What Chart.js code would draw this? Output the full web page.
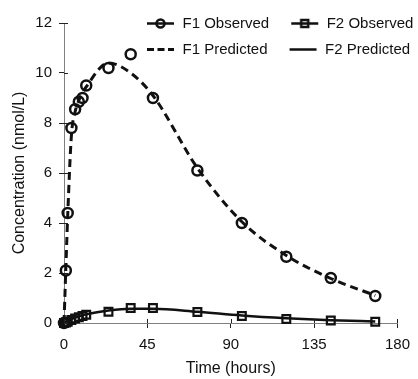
<!DOCTYPE html>
<html>
<head>
<meta charset="utf-8">
<script src="https://cdn.jsdelivr.net/npm/chart.js@4.4.1/dist/chart.umd.min.js"></script>
<style>
  html, body { margin: 0; padding: 0; background: #fff; }
  #wrap { width: 418px; height: 379px; }
</style>
</head>
<body>
<div id="wrap"><canvas id="pkChart" width="418" height="379"></canvas></div>
<script>
// Sampling times (hours) and concentrations (nmol/L)
const sampleTimes = [0, 1, 2, 4, 6, 8, 10, 12, 24, 36, 48, 72, 96, 120, 144, 168];
const f1Observed  = [0, 2.1, 4.4, 7.8, 8.55, 8.85, 9.0, 9.5, 10.2, 10.75, 9.0, 6.1, 4.0, 2.65, 1.8, 1.08];
const f1Predicted = [0, 2.2, 4.3, 7.5, 8.45, 8.9, 9.2, 9.45, 10.4, 10.0, 9.1, 6.2, 4.05, 2.7, 1.78, 1.1];
const f2Observed  = [0, 0.02, 0.05, 0.12, 0.18, 0.23, 0.28, 0.33, 0.45, 0.6, 0.6, 0.44, 0.28, 0.16, 0.1, 0.05];
const f2Predicted = [0, 0.05, 0.09, 0.16, 0.22, 0.27, 0.31, 0.35, 0.5, 0.57, 0.57, 0.45, 0.3, 0.19, 0.11, 0.06];

const xTicks = [0, 45, 90, 135, 180];
const yTicks = [0, 2, 4, 6, 8, 10, 12];

const ink = "#111";
const fontFamily = "'Liberation Sans', Arial, sans-serif";

const toPoints = (ys) => sampleTimes.map((t, i) => ({ x: t, y: ys[i] }));

// legend markers: line with symbol, drawn on small canvases
function legendMarker(kind) {
  const c = document.createElement("canvas");
  c.width = 39;
  c.height = 15;
  const g = c.getContext("2d");
  g.strokeStyle = ink;
  g.lineWidth = kind === "dash" ? 3 : 2.5;
  if (kind === "dash") g.setLineDash([7, 3.5]);
  g.beginPath();
  g.moveTo(11, 7.5);
  g.lineTo(38, 7.5);
  g.stroke();
  g.setLineDash([]);
  if (kind === "circle") {
    g.beginPath();
    g.arc(24.5, 7.5, 4, 0, Math.PI * 2);
    g.stroke();
  } else if (kind === "square") {
    g.lineWidth = 2.5;
    g.strokeRect(21, 4, 7, 7);
  }
  return c;
}

const legendItems = [
  { text: "F1 Observed", kind: "circle" },
  { text: "F2 Observed", kind: "square" },
  { text: "F1 Predicted", kind: "dash" },
  { text: "F2 Predicted", kind: "solid" }
];

// legend sits inside the plot, laid out in rows, top right
const legendPlacer = {
  id: "legendPlacer",
  beforeLayout(chart) {
    if (chart.legend) chart.legend.isHorizontal = () => true;
  },
  beforeDraw(chart) {
    const lg = chart.legend;
    if (!lg) return;
    const w = lg.width, h = lg.height;
    lg.left = 125; lg.right = 125 + w;
    lg.top = 5; lg.bottom = 5 + h;
  }
};

// tick marks also poke a little into the plot
const innerTicks = {
  id: "innerTicks",
  afterDraw(chart) {
    const { ctx, chartArea: a, scales } = chart;
    ctx.save();
    ctx.strokeStyle = "#222";
    ctx.lineWidth = 1;
    ctx.beginPath();
    scales.x.ticks.forEach((t) => {
      const px = Math.round(scales.x.getPixelForValue(t.value)) + 0.5;
      ctx.moveTo(px, a.bottom);
      ctx.lineTo(px, a.bottom - 4);
    });
    scales.y.ticks.forEach((t) => {
      const py = Math.round(scales.y.getPixelForValue(t.value)) + 0.5;
      ctx.moveTo(a.left, py);
      ctx.lineTo(a.left + 4, py);
    });
    ctx.stroke();
    ctx.restore();
  }
};

Chart.defaults.color = ink;
Chart.defaults.font.family = fontFamily;

new Chart(document.getElementById("pkChart"), {
  type: "line",
  data: {
    datasets: [
      {
        label: "F1 Observed",
        data: toPoints(f1Observed),
        showLine: false,
        pointStyle: "circle",
        pointRadius: 5,
        pointBorderWidth: 2.5,
        pointBorderColor: ink,
        pointBackgroundColor: "transparent",
        clip: false
      },
      {
        label: "F2 Observed",
        data: toPoints(f2Observed),
        showLine: false,
        pointStyle: "rect",
        pointRadius: 5.5,
        pointBorderWidth: 2.2,
        pointBorderColor: ink,
        pointBackgroundColor: "transparent",
        clip: false
      },
      {
        label: "F1 Predicted",
        data: toPoints(f1Predicted),
        borderColor: ink,
        borderWidth: 3,
        borderDash: [8, 5],
        pointRadius: 0,
        cubicInterpolationMode: "monotone",
        fill: false,
        clip: false
      },
      {
        label: "F2 Predicted",
        data: toPoints(f2Predicted),
        borderColor: ink,
        borderWidth: 2.5,
        pointRadius: 0,
        cubicInterpolationMode: "monotone",
        fill: false,
        clip: false
      }
    ]
  },
  options: {
    responsive: false,
    animation: false,
    layout: { padding: { top: 23, right: 15, bottom: 0, left: 0 } },
    plugins: {
      tooltip: { enabled: false },
      legend: {
        position: "chartArea",
        align: "start",
        labels: {
          usePointStyle: true,
          pointStyleWidth: 39,
          padding: 11,
          color: ink,
          font: { size: 15, family: fontFamily },
          generateLabels: () =>
            legendItems.map((it, i) => ({
              text: it.text,
              pointStyle: legendMarker(it.kind),
              fontColor: ink,
              fillStyle: "transparent",
              strokeStyle: "transparent",
              lineWidth: 0,
              hidden: false,
              datasetIndex: i
            }))
        }
      }
    },
    scales: {
      x: {
        type: "linear",
        min: 0,
        max: 180,
        afterBuildTicks: (s) => { s.ticks = xTicks.map((v) => ({ value: v })); },
        afterFit: (s) => { s.height = 56; },
        border: { color: "#808080", width: 1 },
        grid: { drawOnChartArea: false, tickLength: 5, color: "#222" },
        ticks: { padding: 8, font: { size: 15 }, color: ink, maxRotation: 0 },
        title: {
          display: true,
          text: "Time (hours)",
          font: { size: 16 },
          color: ink,
          padding: { top: 0, bottom: 1 }
        }
      },
      y: {
        type: "linear",
        min: 0,
        max: 12,
        afterBuildTicks: (s) => { s.ticks = yTicks.map((v) => ({ value: v })); },
        afterFit: (s) => { s.width = 64; },
        border: { color: "#808080", width: 1 },
        grid: { drawOnChartArea: false, tickLength: 5, color: "#222" },
        ticks: { padding: 7, font: { size: 15 }, color: ink },
        title: {
          display: true,
          text: "Concentration (nmol/L)",
          font: { size: 16 },
          color: ink,
          padding: { top: 10, bottom: 0 }
        }
      }
    }
  },
  plugins: [legendPlacer, innerTicks]
});
</script>
</body>
</html>
